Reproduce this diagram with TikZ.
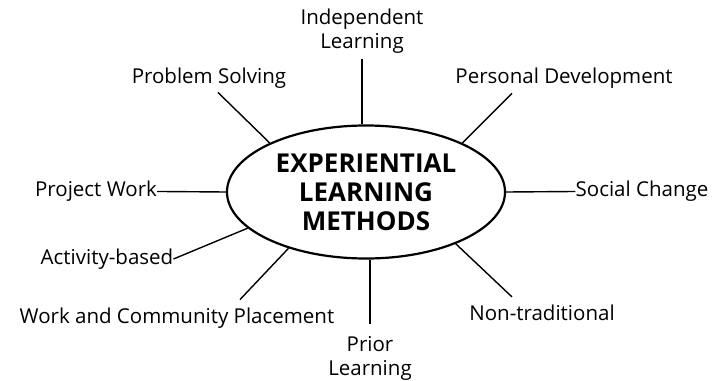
\documentclass[tikz,border=0pt]{standalone}
\usepackage{fontspec}
\setmainfont{Open Sans}
\usetikzlibrary{shapes.geometric}
\begin{document}
\begin{tikzpicture}[x=1pt,y=-1pt]
        \tikzstyle{every node}+=[inner sep=0pt, font=\fontsize{20.5}{24}\selectfont]
        \tikzstyle{hub}=[draw, ellipse, line width=2.2pt, minimum width=278pt, minimum height=133pt, align=center, font=\bfseries\fontsize{26}{29}\selectfont]
        \tikzstyle{spoke}=[line width=1.4pt]
        \useasboundingbox (0,0) rectangle (714,380);
        \node [hub] (elm) at (366,192) {EXPERIENTIAL\\LEARNING\\METHODS};
        \node [align=center] (ind) at (362,31) {Independent\\Learning};
        \node (ps) at (209,78) {Problem Solving};
        \node (pd) at (564,78) {Personal Development};
        \node (pw) at (96,191) {Project Work};
        \node (sc) at (642,191) {Social Change};
        \node (ab) at (107,259) {Activity-based};
        \node (wcp) at (177,318) {Work and Community Placement};
        \node [align=center] (pl) at (370,358) {Prior\\Learning};
        \node (nt) at (542,313) {Non-traditional};
        \draw [spoke] ([yshift=-6pt]ind.south) -- (ind |- elm.north);
        \draw [spoke] ([xshift=9pt,yshift=-4pt]ps.south) -- (elm.153);
        \draw [spoke] ([xshift=-52pt,yshift=-5pt]pd.south) -- (elm.27);
        \draw [spoke] (pw) -- (elm.west);
        \draw [spoke] (elm.east) -- (sc);
        \draw [spoke] (ab.east) -- (elm.197);
        \draw [spoke] ([xshift=63pt,yshift=8pt]wcp.north) -- (elm.216);
        \draw [spoke] (elm.south -| pl) -- ([yshift=12pt]pl.north);
        \draw [spoke] (elm.330) -- ([xshift=-30pt,yshift=8pt]nt.north);
    \end{tikzpicture}
\end{document}
